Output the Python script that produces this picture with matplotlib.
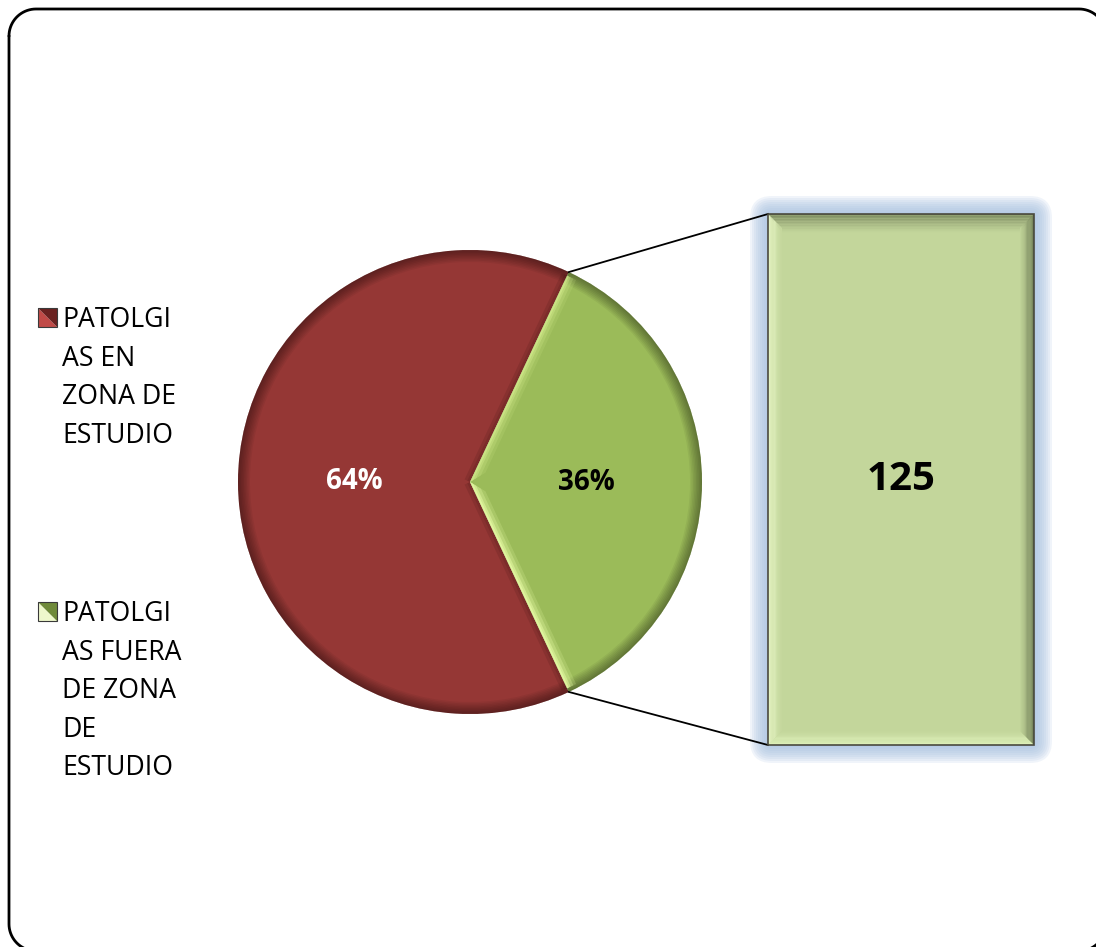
import numpy as np
import matplotlib
matplotlib.use("Agg")
import matplotlib.pyplot as plt
from matplotlib.patches import Wedge, FancyBboxPatch, Polygon
from matplotlib.colors import to_rgb

plt.rcParams["font.family"] = ["Open Sans", "DejaVu Sans"]

# data
legend_lines = [["PATOLGI", "AS EN", "ZONA DE", "ESTUDIO"],
                ["PATOLGI", "AS FUERA", "DE ZONA", "DE", "ESTUDIO"]]
shares = [64, 36]
bar_value = 125
colors = ["#953735", "#9BBB59"]
bar_color = "#C3D69B"
marker_light = ["#C04A47", "#EEF8CC"]
marker_dark = ["#6A2120", "#6F8A3A"]


def blend(c1, c2, t):
    a, b = np.array(to_rgb(c1)), np.array(to_rgb(c2))
    return tuple(a + (b - a) * t)


def rounded_outline(x0, y0, x1, y1, rr, n=20):
    # corners in screen order: top-left, top-right, bottom-right, bottom-left
    xs, ys = [], []
    corners = [((x0 + rr, y0 + rr), 180, 270), ((x1 - rr, y0 + rr), 270, 360),
               ((x1 - rr, y1 - rr), 0, 90), ((x0 + rr, y1 - rr), 90, 180)]
    for (ccx, ccy), a0, a1 in corners:
        th = np.deg2rad(np.linspace(a0, a1, n))
        xs.extend(ccx + rr * np.cos(th))
        ys.extend(ccy + rr * np.sin(th))
    xs.append(xs[0])
    ys.append(ys[0])
    return xs, ys


W, H = 1096, 947
fig = plt.figure(figsize=(W / 100, H / 100), dpi=100)
ax = fig.add_axes([0, 0, 1, 1])

# pie (green slice centred on the right)
cx, cy, r = 470, 482, 232
start = 360 * shares[1] / 100 / 2
wedges, _, autotexts = ax.pie(shares, colors=colors, startangle=start,
                              center=(cx, cy), radius=r, pctdistance=0.5,
                              autopct=lambda p: f"{p:.0f}%",
                              wedgeprops=dict(linewidth=0))
ax.set_xlim(0, W)
ax.set_ylim(H, 0)
ax.set_aspect("auto")
ax.axis("off")
for t, c in zip(autotexts, ["white", "black"]):
    t.set_color(c)
    t.set_fontsize(20)
    t.set_fontweight("bold")
    t.set_zorder(10)

# soft bevel on the rim
for w in wedges:
    for k in range(1, 9):
        ax.add_patch(Wedge((cx, cy), r, w.theta1, w.theta2, width=k * 1.5,
                           fc="black", alpha=0.05, lw=0, zorder=3))

# radial edge highlight / shadow of the small slice
g = wedges[1]
for ang, col, a in [(g.theta1, "#D8F090", 0.7), (g.theta2, "#E6FAA4", 1.0)]:
    rad = np.deg2rad(ang)
    d = np.array([np.cos(rad), np.sin(rad)])
    mid = np.deg2rad((g.theta1 + g.theta2) / 2)
    toward = np.array([np.cos(mid), np.sin(mid)])
    n = toward - d * np.dot(toward, d)
    n = n / np.linalg.norm(n)
    p0 = np.array([cx, cy])
    p1 = p0 + d * (r - 4)
    for k, alpha in [(10, 0.2 * a), (7, 0.3 * a), (4, 0.5 * a), (2, 0.7 * a)]:
        ax.add_patch(Polygon([p0, p1, p1 + n * k, p0 + n * k + d * k * 1.5],
                             closed=True, fc=col, alpha=alpha, lw=0, zorder=4))
    for k in (6, 3):
        ax.add_patch(Polygon([p0, p1, p1 - n * k, p0 - n * k],
                             closed=True, fc="#2A0808", alpha=0.12, lw=0, zorder=4))

# bar of the small slice
bx0, by0, bx1, by1 = 768, 214, 1034, 745
for pad in range(18, 0, -2):
    ax.add_patch(FancyBboxPatch((bx0, by0), bx1 - bx0, by1 - by0,
                                boxstyle=f"round,pad={pad},rounding_size={pad + 4}",
                                fc="#A9C2E2", alpha=0.17, lw=0, zorder=2))

# connector lines from slice edges to bar corners
pts = []
for ang in (g.theta1, g.theta2):
    rad = np.deg2rad(ang)
    pts.append((cx + r * np.cos(rad), cy + r * np.sin(rad)))
pts.sort(key=lambda p: p[1])
ax.plot([pts[0][0], bx0], [pts[0][1], by0], color="black", lw=1.3, zorder=5)
ax.plot([pts[1][0], bx0], [pts[1][1], by1], color="black", lw=1.3, zorder=5)

ax2 = fig.add_axes([bx0 / W, 1 - by1 / H, (bx1 - bx0) / W, (by1 - by0) / H])
ax2.bar([0], [bar_value], width=1, color=bar_color, lw=0)
ax2.set_xlim(-0.5, 0.5)
ax2.set_ylim(0, bar_value)
ax2.axis("off")

V = bar_value
bw = 14 / (bx1 - bx0)
bh = V * 14 / (by1 - by0)


def inset(f, depth=1.0):
    return -0.5 + f * bw, 0.5 - f * bw, f * bh, V - f * bh * depth


steps = 12
edge_cols = {"top": "#75835A", "left": "#F2FFD2", "bottom": "#E8FAC4", "right": "#5A6644"}
for s in range(steps):
    f0, f1 = s / steps, (s + 1) / steps
    a0, a1, b0, b1 = inset(f0)
    c0, c1, d0, d1 = inset(f1)
    _, _, _, e1 = inset(f0, 1.3)
    _, _, _, g1 = inset(f1, 1.3)
    polys = {
        "top": [(a0, e1), (a1, e1), (c1, g1), (c0, g1)],
        "bottom": [(a0, b0), (a1, b0), (c1, d0), (c0, d0)],
        "left": [(a0, b0), (a0, b1), (c0, d1), (c0, d0)],
        "right": [(a1, b0), (a1, b1), (c1, d1), (c1, d0)],
    }
    t = ((f0 + f1) / 2) ** 0.8
    for side in ["top", "bottom", "left", "right"]:
        ax2.add_patch(Polygon(polys[side], closed=True, lw=0,
                              fc=blend(edge_cols[side], bar_color, t)))
ax2.add_patch(Polygon([(-0.5, 0), (-0.5, V), (0.5, V), (0.5, 0)], closed=True,
                      fill=False, ec="#4A4A3E", lw=1.2, clip_on=False))
ax2.text(0, V / 2, f"{bar_value}", ha="center", va="center",
         fontsize=29, fontweight="bold", color="black")

# legend
mx0, ms = 38, 19
for block, (lines, y0) in enumerate(zip(legend_lines, [327, 621])):
    top = y0 - ms
    ax.add_patch(Polygon([(mx0, top), (mx0, top + ms), (mx0 + ms, top + ms)],
                         closed=True, fc=marker_light[block], lw=0, zorder=5))
    ax.add_patch(Polygon([(mx0, top), (mx0 + ms, top), (mx0 + ms, top + ms)],
                         closed=True, fc=marker_dark[block], lw=0, zorder=5))
    ax.add_patch(Polygon([(mx0, top), (mx0 + ms, top), (mx0 + ms, top + ms), (mx0, top + ms)],
                         closed=True, fill=False, ec="#3A3A3A", lw=0.8, zorder=6))
    for i, line in enumerate(lines):
        ax.text(62, y0 + i * 38.6, line, ha="left", va="baseline",
                fontsize=19.2, color="black")

# chart area frame (runs past the right and bottom edges of the picture)
fx, fy = rounded_outline(9, 9, 1106, 951, 27)
ax.plot(fx, fy, color="black", lw=2, zorder=20,
        solid_joinstyle="round", solid_capstyle="round")

fig.savefig("out.png", dpi=100)
